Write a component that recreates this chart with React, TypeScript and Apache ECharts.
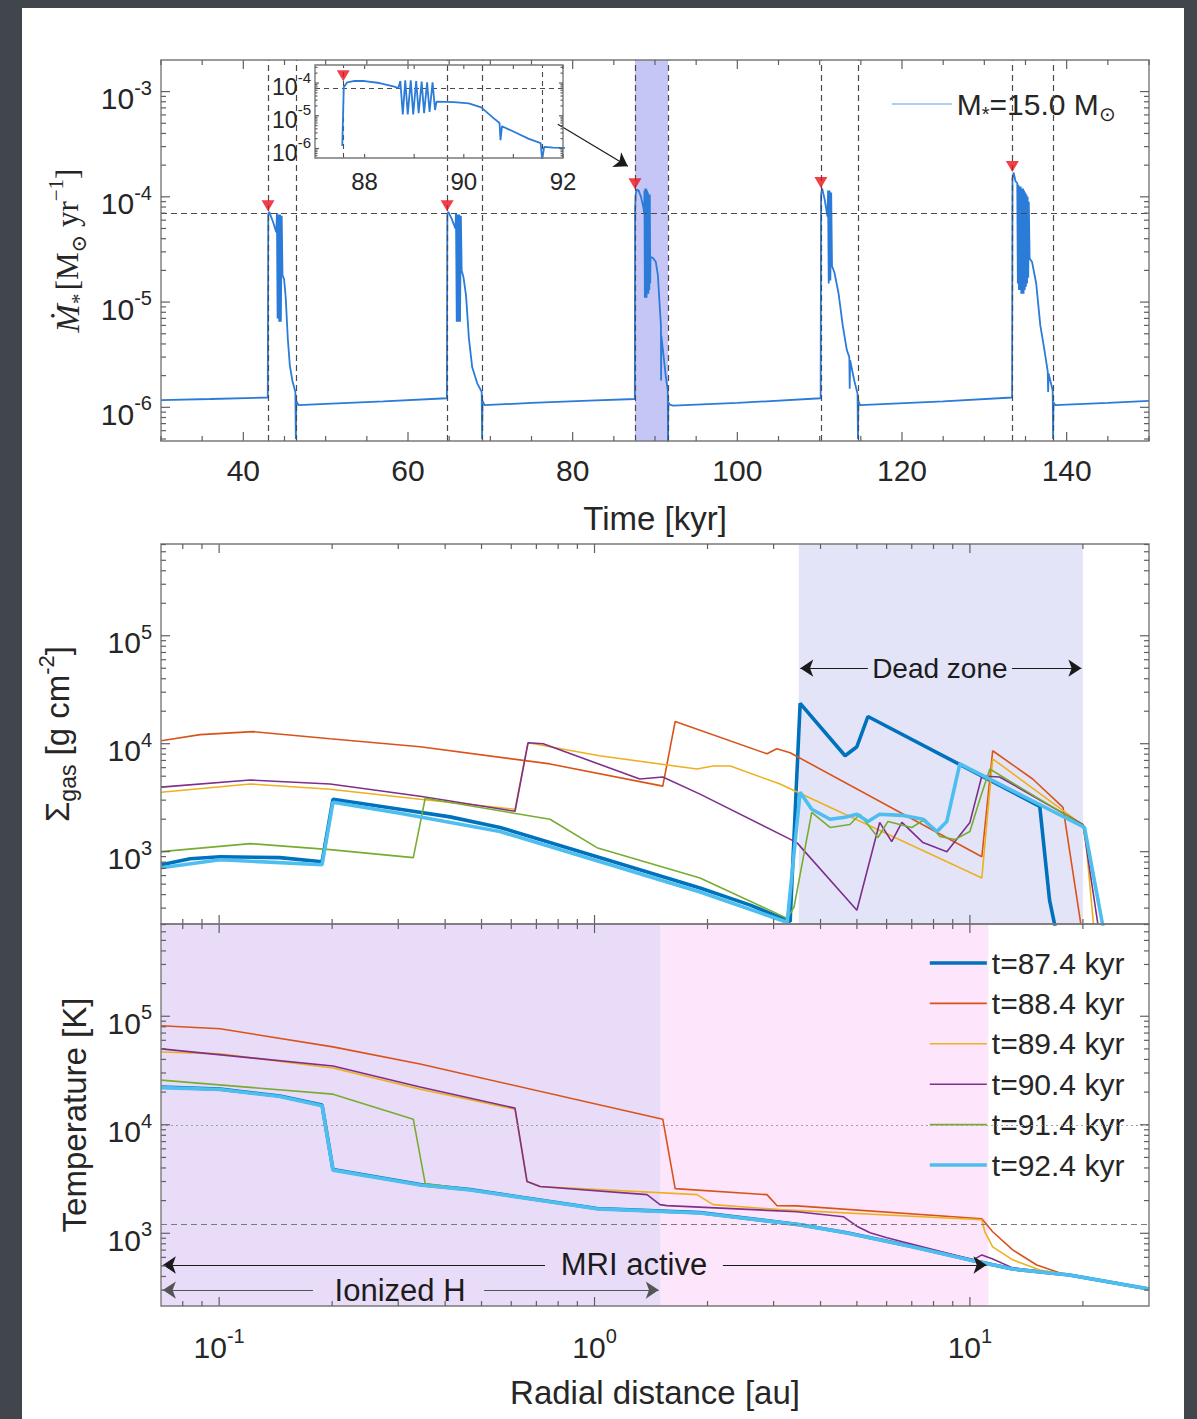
import React, { useEffect, useRef } from 'react';
import * as echarts from 'echarts';

const SANS = "'Liberation Sans', Arial, Helvetica, sans-serif";
const SERIF = "'Liberation Serif', 'DejaVu Serif', 'Times New Roman', serif";
const INK = '#262626';
const DARK = '#41454c';

// Accretion rate onto the 15 Msun star: [time kyr, Mdot Msun/yr]
const accretionHistory: [number, number][] = [
  [30, 1.17e-6], [36, 1.2e-6], [42.97, 1.24e-6],
  [43.0, 1.24e-6], [43.03, 6.9e-5], [43.15, 7.2e-5], [43.6, 5.8e-5], [44.0, 4.6e-5], [44.08, 7.0e-5],
  [44.16, 7e-6], [44.26, 6.8e-5], [44.36, 6.5e-6], [44.46, 6.8e-5], [44.56, 6.5e-6], [44.66, 6.6e-5],
  [44.76, 1.8e-5], [44.95, 1.65e-5], [45.15, 1.1e-5], [45.4, 4.5e-6], [45.65, 2.5e-6], [45.95, 1.8e-6],
  [46.32, 1.4e-6], [46.38, 5e-7], [46.43, 1.15e-6], [46.7, 1.05e-6],
  [50, 1.08e-6], [57, 1.14e-6], [64.72, 1.22e-6],
  [64.75, 1.22e-6], [64.78, 6.9e-5], [64.9, 7.2e-5], [65.3, 6.2e-5], [65.75, 5.0e-5], [65.83, 7.0e-5],
  [65.92, 6.5e-6], [66.02, 6.8e-5], [66.12, 6.5e-6], [66.22, 6.8e-5], [66.32, 6.5e-6], [66.42, 6.6e-5],
  [66.52, 2.0e-5], [66.75, 1.7e-5], [67.05, 1.15e-5], [67.4, 4.5e-6], [67.8, 2.4e-6], [68.4, 1.7e-6],
  [68.95, 1.4e-6], [69.0, 5e-7], [69.05, 1.15e-6], [69.3, 1.05e-6],
  [75, 1.1e-6], [82, 1.16e-6], [87.55, 1.2e-6],
  [87.58, 7.5e-5], [87.65, 1.05e-4], [87.8, 1.17e-4], [88.0, 1.15e-4], [88.3, 1.0e-4], [88.6, 7.8e-5],
  [88.68, 7.0e-5], [88.72, 1.15e-4], [88.77, 1.1e-5], [88.82, 1.2e-4], [88.87, 1.1e-5], [88.93, 1.2e-4],
  [88.98, 1.1e-5], [89.04, 1.15e-4], [89.09, 1.2e-5], [89.15, 1.1e-4], [89.2, 1.2e-5], [89.26, 1.05e-4],
  [89.31, 1.3e-5], [89.37, 1.05e-4], [89.42, 1.5e-5], [89.45, 2.7e-5],
  [89.8, 2.6e-5], [90.1, 2.4e-5], [90.35, 1.8e-5], [90.6, 8.5e-6], [90.72, 6e-6], [90.74, 1.8e-6],
  [90.77, 4.8e-6], [91.0, 3.3e-6], [91.3, 2.0e-6], [91.55, 1.45e-6], [91.58, 4.5e-7], [91.62, 1.12e-6],
  [91.8, 1.06e-6], [92.2, 1.04e-6],
  [100, 1.1e-6], [110.12, 1.22e-6],
  [110.15, 1.22e-6], [110.17, 1.05e-4], [110.3, 1.2e-4], [110.6, 9.5e-5], [110.95, 6.5e-5], [111.02, 1.15e-4],
  [111.1, 1.5e-5], [111.2, 1.15e-4], [111.3, 1.6e-5], [111.4, 1.1e-4], [111.5, 2.2e-5], [111.8, 1.9e-5],
  [112.3, 1.2e-5], [112.8, 6e-6], [113.3, 3.5e-6], [113.6, 3e-6], [113.65, 1.5e-6], [113.7, 2.8e-6],
  [114.2, 1.8e-6], [114.6, 1.35e-6], [114.65, 5e-7], [114.7, 1.15e-6], [114.9, 1.05e-6],
  [125, 1.14e-6], [133.37, 1.24e-6],
  [133.4, 1.24e-6], [133.42, 1.5e-4], [133.55, 1.7e-4], [133.8, 1.4e-4], [134.0, 1.35e-4],
  [134.07, 1.5e-5], [134.14, 1.3e-4], [134.21, 1.3e-5], [134.28, 1.25e-4], [134.35, 1.3e-5],
  [134.42, 1.25e-4], [134.49, 1.2e-5], [134.56, 1.2e-4], [134.63, 1.2e-5], [134.7, 1.2e-4],
  [134.77, 1.2e-5], [134.84, 1.15e-4], [134.91, 1.3e-5], [134.98, 1.1e-4], [135.05, 1.4e-5],
  [135.12, 1.05e-4], [135.19, 1.5e-5], [135.26, 1.0e-4], [135.33, 1.7e-5], [135.4, 9e-5],
  [135.5, 2.6e-5], [135.8, 2.4e-5], [136.3, 1.5e-5], [136.8, 6e-6], [137.3, 3.5e-6], [137.7, 2.2e-6],
  [137.75, 1.4e-6], [137.8, 2.1e-6], [138.3, 1.45e-6], [138.35, 5e-7], [138.4, 1.12e-6], [138.6, 1.05e-6],
  [145, 1.1e-6], [150, 1.15e-6],
];

// Outburst bookkeeping
const burstStart = [43.0, 64.75, 87.57, 110.15, 133.4];
const burstEnd = [46.38, 69.0, 91.58, 114.65, 138.35];
const burstPeak = [7.2e-5, 7.2e-5, 1.17e-4, 1.2e-4, 1.7e-4];
const burstThreshold = 6.9e-5;
const highlightedBurst = [87.57, 91.58];
const insetArrow = [[78.2, 4.9e-4], [86.7, 1.95e-4]];

// Tick labels
const timeTicks = [40, 60, 80, 100, 120, 140];
const insetTimeTicks = [88, 90, 92];
const rateDecades = [-6, -5, -4, -3];
const insetRateDecades = [-6, -5, -4];
const radiusDecades = [-1, 0, 1];
const profileDecades = [3, 4, 5];

// Disc snapshots
const snapshotLabels = ['t=87.4 kyr', 't=88.4 kyr', 't=89.4 kyr', 't=90.4 kyr', 't=91.4 kyr', 't=92.4 kyr'];
const snapshotColors = ['#0072BD', '#D95319', '#EDB120', '#7E2F8E', '#77AC30', '#4DBEEE'];
const snapshotWidths = [3.6, 1.6, 1.6, 1.6, 1.6, 3.6];

// Gas surface density [au, g cm^-2]
const sigma874: [number, number][] = [
  [0.0701, 757], [0.0837, 861], [0.1006, 898], [0.145, 880], [0.188, 807], [0.201, 3060], [0.303, 2470],
  [0.412, 2100], [0.56, 1676], [1.015, 898], [1.91, 461], [2.6, 320], [3.26, 231], [3.32, 225],
  [3.53, 23660], [4.65, 7730], [5.0, 9380], [5.35, 17870], [15.35, 2630], [16.3, 356], [17.1, 160],
];
const sigma884: [number, number][] = [
  [0.0701, 10670], [0.089, 12130], [0.123, 12950], [0.1975, 11130], [0.343, 9380], [0.761, 6500],
  [1.52, 4050], [1.64, 16070], [2.88, 8070], [3.06, 8980], [3.32, 8240], [10.76, 898], [11.5, 8610],
  [14.7, 4710], [17.7, 2575], [20.0, 160],
];
const sigma894: [number, number][] = [
  [0.0701, 3557], [0.121, 4230], [0.1975, 3790], [0.343, 3060], [0.614, 2470], [0.665, 10200],
  [1.03, 7730], [1.875, 5830], [2.07, 6220], [2.3, 6220], [3.12, 4230], [10.76, 571], [11.5, 7245],
  [20.2, 1714], [21.5, 160],
];
const sigma904: [number, number][] = [
  [0.0701, 3963], [0.121, 4610], [0.1975, 4230], [0.343, 3265], [0.614, 2365], [0.665, 10200],
  [0.73, 10000], [1.32, 4710], [1.52, 4920], [1.91, 3412], [3.46, 1213], [5.0, 287], [5.75, 1866],
  [6.19, 1240], [6.59, 1866], [7.5, 1213], [8.68, 1000], [10.0, 1866], [10.76, 5020], [12.0, 4920],
  [20.0, 1787], [22.2, 160],
];
const sigma914: [number, number][] = [
  [0.0701, 1000], [0.121, 1188], [0.1975, 1045], [0.329, 880], [0.354, 3125], [0.761, 1995],
  [1.015, 1089], [1.91, 571], [3.26, 241], [3.4, 306], [3.79, 2313], [4.24, 1676], [4.79, 1787],
  [5.09, 2220], [5.69, 1352], [6.05, 1906], [7.0, 1676], [7.59, 1995], [8.32, 1380], [9.12, 1294],
  [10.0, 1538], [10.63, 3060], [11.3, 5830], [20.0, 1750], [22.9, 160],
];
const sigma924: [number, number][] = [
  [0.0701, 709], [0.1006, 842], [0.188, 757], [0.201, 2870], [0.303, 2266], [0.56, 1537], [1.015, 825],
  [1.91, 423], [3.26, 222], [3.53, 3557], [3.79, 2470], [4.24, 1995], [4.65, 2080], [5.0, 2220],
  [5.35, 1906], [5.75, 2220], [6.59, 2170], [7.5, 1995], [8.17, 1538], [8.68, 1906], [9.4, 6500],
  [20.2, 1675], [22.9, 160],
];

// Midplane temperature [au, K]
const temp874: [number, number][] = [
  [0.0701, 22250], [0.1006, 21300], [0.145, 18400], [0.188, 15200], [0.201, 3870], [0.343, 2810],
  [0.466, 2530], [1.015, 1690], [1.91, 1550], [3.53, 1200], [4.7, 1011], [7.06, 750], [10.0, 569],
  [13.0, 469], [18.4, 413], [30, 306],
];
const temp884: [number, number][] = [
  [0.0701, 81700], [0.1006, 76600], [0.201, 52200], [0.343, 36300], [1.52, 11250], [1.64, 2582],
  [2.88, 2270], [3.06, 1800], [3.46, 1790], [10.76, 1362], [11.5, 1033], [13.0, 703], [15.07, 510],
  [17.7, 422], [30, 306],
];
const temp894: [number, number][] = [
  [0.0701, 46900], [0.1006, 45000], [0.201, 33300], [0.343, 21300], [0.614, 13900], [0.661, 3000],
  [0.716, 2700], [1.875, 2270], [2.07, 1837], [3.12, 1652], [10.76, 1334], [10.96, 1033], [11.5, 750],
  [13.0, 569], [15.35, 459], [17.7, 422], [30, 306],
];
const temp904: [number, number][] = [
  [0.0701, 50000], [0.201, 34800], [0.343, 22250], [0.614, 14230], [0.661, 3000], [0.716, 2700],
  [1.38, 2270], [1.494, 1837], [1.56, 1800], [3.46, 1580], [4.6, 1422], [5.03, 1148], [5.42, 1011],
  [6.01, 911], [10.2, 569], [10.76, 632], [11.5, 580], [13.0, 480], [18.4, 413], [30, 306],
];
const temp914: [number, number][] = [
  [0.0701, 25800], [0.201, 19150], [0.329, 11250], [0.354, 2870], [0.466, 2530], [1.015, 1690],
  [1.91, 1550], [3.53, 1200], [4.7, 1011], [7.06, 750], [10.0, 569], [13.0, 469], [18.4, 413], [30, 306],
];
const temp924: [number, number][] = [
  [0.0701, 22000], [0.1006, 21100], [0.145, 18200], [0.188, 15000], [0.201, 3820], [0.343, 2790],
  [0.466, 2510], [1.015, 1680], [1.91, 1540], [3.53, 1195], [4.7, 1008], [7.06, 748], [10.0, 568],
  [13.0, 468], [18.4, 412], [30, 306],
];

const sigmaProfiles = [sigma874, sigma884, sigma894, sigma904, sigma914, sigma924];
const tempProfiles = [temp874, temp884, temp894, temp904, temp914, temp924];

// Disc zones [au] and temperature markers [K]
const deadZone = [3.5, 20];
const ionizedHEdge = 1.5;
const mriActiveEdge = 11.2;
const hydrogenIonisationT = 1.0e4;
const mriActivationT = 1200;

// Axis extents
const timeRange = [30, 150];
const rateRange = [-6.32, -2.7];
const insetTimeRange = [87, 92];
const insetRateRange = [-6.29, -3.45];
const radiusRange = [Math.log10(0.07), Math.log10(30)];
const profileRange = [2.33, 5.85];

const lg = Math.log10;

function logMinors(lo: number, hi: number): number[] {
  const out: number[] = [];
  for (let n = Math.floor(lo) - 1; n <= Math.ceil(hi); n++) {
    for (let k = 2; k <= 9; k++) {
      const v = n + Math.log10(k);
      if (v > lo + 1e-6 && v < hi - 1e-6) out.push(v);
    }
  }
  return out;
}

const pow10 = (v: number) => `{b|10}{s|${v}}`;
const powRich = (size: number) => ({
  b: { fontSize: size, lineHeight: size + 12, fontFamily: SANS, color: INK },
  s: { fontSize: Math.round(size * 0.66), lineHeight: Math.round(size * 0.66), verticalAlign: 'top', fontFamily: SANS, color: INK },
});

// Box with ticks on all four sides, drawn through the grid's own scales
function frameSeries(axis: number, xr: number[], yr: number[], xMajor: number[], xMinor: number[],
  yMajor: number[], yMinor: number[], majorLen: number, minorLen: number, z: number) {
  const data: number[][] = [];
  xMajor.forEach((v) => data.push([v, 0, 1]));
  xMinor.forEach((v) => data.push([v, 0, 0]));
  yMajor.forEach((v) => data.push([v, 1, 1]));
  yMinor.forEach((v) => data.push([v, 1, 0]));
  return {
    type: 'custom', name: `frame${axis}`, xAxisIndex: axis, yAxisIndex: axis, z, silent: true, clip: false,
    data,
    renderItem: (params: any, api: any) => {
      const v = api.value(0);
      const kind = api.value(1);
      const len = api.value(2) ? majorLen : minorLen;
      const style = { stroke: '#606060', lineWidth: 1.2 };
      const children: any[] = [];
      if (kind === 0) {
        const b = api.coord([v, yr[0]]);
        const t = api.coord([v, yr[1]]);
        children.push({ type: 'line', shape: { x1: b[0], y1: b[1], x2: b[0], y2: b[1] - len }, style });
        children.push({ type: 'line', shape: { x1: t[0], y1: t[1], x2: t[0], y2: t[1] + len }, style });
      } else {
        const l = api.coord([xr[0], v]);
        const r = api.coord([xr[1], v]);
        children.push({ type: 'line', shape: { x1: l[0], y1: l[1], x2: l[0] + len, y2: l[1] }, style });
        children.push({ type: 'line', shape: { x1: r[0], y1: r[1], x2: r[0] - len, y2: r[1] }, style });
      }
      if (params.dataIndex === 0) {
        const a = api.coord([xr[0], yr[1]]);
        const c = api.coord([xr[1], yr[0]]);
        children.push({
          type: 'rect', shape: { x: a[0], y: a[1], width: c[0] - a[0], height: c[1] - a[1] },
          style: { fill: 'none', stroke: '#7a7a7a', lineWidth: 1.4 },
        });
      }
      return { type: 'group', children };
    },
  };
}

const blank = (axis: number, z: number, name: string) => ({
  type: 'line', name, xAxisIndex: axis, yAxisIndex: axis, data: [] as number[][], z, silent: true, symbol: 'none',
});

const textMark = (x: number, y: number, text: string, size: number) => ({
  coord: [x, y], symbol: 'circle', symbolSize: 1, itemStyle: { color: 'rgba(0,0,0,0)' },
  label: { show: true, position: 'inside', formatter: text, fontSize: size, color: '#1c1c1c', fontFamily: SANS },
});

function buildOption() {
  const rateData = accretionHistory.map(([t, m]) => [t, lg(m)]);
  const insetData = accretionHistory.filter(([t]) => t > 86 && t < 93).map(([t, m]) => [t, lg(m)]);

  const timeMinor: number[] = [];
  for (let v = timeRange[0]; v <= timeRange[1]; v += 5) if (!timeTicks.includes(v)) timeMinor.push(v);

  const labelBase = { color: INK, fontFamily: SANS };
  const nameBase = { fontSize: 33, lineHeight: 44, color: INK, fontFamily: SANS };
  const hidden = { axisLine: { show: false }, axisTick: { show: false }, splitLine: { show: false } };

  const series: any[] = [];

  // ---- accretion history ----
  series.push({
    ...blank(0, 1, 'band'),
    markArea: {
      silent: true, itemStyle: { color: '#c6c6f6' },
      data: [[{ xAxis: highlightedBurst[0] }, { xAxis: highlightedBurst[1] }]],
    },
  });
  series.push({
    type: 'line', name: 'accretion', xAxisIndex: 0, yAxisIndex: 0, data: rateData, symbol: 'none', z: 3,
    lineStyle: { color: '#2b7bd8', width: 1.8 }, itemStyle: { color: '#2b7bd8' },
  });
  series.push({
    ...blank(0, 4, 'burst limits'),
    markLine: {
      silent: true, symbol: 'none', label: { show: false },
      lineStyle: { type: [6, 4], color: '#4a4a4a', width: 1.2 },
      data: [
        ...burstStart.map((t) => ({ xAxis: t })),
        ...burstEnd.map((t) => ({ xAxis: t })),
        { yAxis: lg(burstThreshold) },
      ],
    },
  });
  series.push({
    type: 'scatter', name: 'peaks', xAxisIndex: 0, yAxisIndex: 0, z: 6, silent: true,
    data: burstStart.map((t, i) => [t, lg(burstPeak[i])]),
    symbol: 'triangle', symbolRotate: 180, symbolSize: [13, 11], symbolOffset: [0, -6],
    itemStyle: { color: '#e8101a' },
  });
  series.push({
    ...blank(0, 6, 'pointer'),
    markLine: {
      silent: true, symbol: ['none', 'arrow'], symbolSize: 13, label: { show: false },
      lineStyle: { type: 'solid', color: '#1a1a1a', width: 1.2 },
      data: [[{ coord: [insetArrow[0][0], lg(insetArrow[0][1])] }, { coord: [insetArrow[1][0], lg(insetArrow[1][1])] }]],
    },
  });
  series.push(frameSeries(0, timeRange, rateRange, timeTicks, timeMinor, rateDecades,
    logMinors(rateRange[0], rateRange[1]), 9, 5, 20));

  // ---- inset ----
  series.push({
    ...blank(1, 7, 'inset bg'),
    markArea: {
      silent: true, itemStyle: { color: '#ffffff', opacity: 1 },
      data: [[{ coord: [insetTimeRange[0], insetRateRange[0]] }, { coord: [insetTimeRange[1], insetRateRange[1]] }]],
    },
  });
  series.push({
    ...blank(1, 8, 'inset limits'),
    markLine: {
      silent: true, symbol: 'none', label: { show: false },
      lineStyle: { type: [5, 4], color: '#4a4a4a', width: 1.1 },
      data: [{ xAxis: highlightedBurst[0] }, { xAxis: highlightedBurst[1] }, { yAxis: lg(burstThreshold) }],
    },
  });
  series.push({
    type: 'line', name: 'accretion zoom', xAxisIndex: 1, yAxisIndex: 1, data: insetData, symbol: 'none', z: 9,
    lineStyle: { color: '#2b7bd8', width: 1.8 },
  });
  series.push({
    type: 'scatter', name: 'inset peak', xAxisIndex: 1, yAxisIndex: 1, z: 10, silent: true,
    data: [[burstStart[2], lg(burstPeak[2])]],
    symbol: 'triangle', symbolRotate: 180, symbolSize: [13, 11], symbolOffset: [0, -5],
    itemStyle: { color: '#e8101a' },
  });
  series.push(frameSeries(1, insetTimeRange, insetRateRange, [88, 89, 90, 91, 92], [], insetRateDecades,
    logMinors(insetRateRange[0], insetRateRange[1]), 4, 2.5, 21));

  // ---- surface density ----
  series.push({
    ...blank(2, 1, 'dead zone'),
    markArea: { silent: true, itemStyle: { color: '#e4e4f8' }, data: [[{ xAxis: lg(deadZone[0]) }, { xAxis: lg(deadZone[1]) }]] },
  });
  sigmaProfiles.forEach((prof, i) => {
    series.push({
      type: 'line', name: snapshotLabels[i], xAxisIndex: 2, yAxisIndex: 2, symbol: 'none', z: 3,
      data: prof.map(([r, s]) => [lg(r), lg(s)]),
      lineStyle: { color: snapshotColors[i], width: snapshotWidths[i] }, itemStyle: { color: snapshotColors[i] },
    });
  });
  const dzY = 4.7;
  series.push({
    ...blank(2, 5, 'dead zone label'),
    markLine: {
      silent: true, symbol: ['none', 'arrow'], symbolSize: 13, label: { show: false },
      lineStyle: { type: 'solid', color: '#1a1a1a', width: 1.2 },
      data: [
        [{ coord: [0.728, dzY] }, { coord: [lg(deadZone[0]) + 0.004, dzY] }],
        [{ coord: [1.112, dzY] }, { coord: [lg(deadZone[1]) - 0.004, dzY] }],
      ],
    },
    markPoint: { silent: true, data: [textMark(0.92, dzY, 'Dead zone', 28)] },
  });
  series.push(frameSeries(2, radiusRange, profileRange, radiusDecades, logMinors(radiusRange[0], radiusRange[1]),
    profileDecades, logMinors(profileRange[0], profileRange[1]), 9, 5, 20));

  // ---- temperature ----
  series.push({
    ...blank(3, 1, 'zones'),
    markArea: {
      silent: true,
      data: [
        [{ xAxis: radiusRange[0], itemStyle: { color: '#e9dcf9' } }, { xAxis: lg(ionizedHEdge) }],
        [{ xAxis: lg(ionizedHEdge), itemStyle: { color: '#fde5fb' } }, { xAxis: lg(mriActiveEdge) }],
      ],
    },
  });
  series.push({
    ...blank(3, 2, 'thresholds'),
    markLine: {
      silent: true, symbol: 'none', label: { show: false },
      data: [
        { yAxis: lg(hydrogenIonisationT), lineStyle: { type: [2, 3], color: '#a0a0a0', width: 1.2 } },
        { yAxis: lg(mriActivationT), lineStyle: { type: [6, 4], color: '#7a7a7a', width: 1.2 } },
      ],
    },
  });
  tempProfiles.forEach((prof, i) => {
    series.push({
      type: 'line', name: snapshotLabels[i], xAxisIndex: 3, yAxisIndex: 3, symbol: 'none', z: 3,
      data: prof.map(([r, t]) => [lg(r), lg(t)]),
      lineStyle: { color: snapshotColors[i], width: snapshotWidths[i] }, itemStyle: { color: snapshotColors[i] },
    });
  });
  const mriY = 2.708;
  const ionY = 2.477;
  series.push({
    ...blank(3, 5, 'mri label'),
    markLine: {
      silent: true, symbol: ['none', 'arrow'], symbolSize: 13, label: { show: false },
      lineStyle: { type: 'solid', color: '#1a1a1a', width: 1.2 },
      data: [
        [{ coord: [-0.132, mriY] }, { coord: [radiusRange[0] + 0.005, mriY] }],
        [{ coord: [0.342, mriY] }, { coord: [lg(mriActiveEdge) - 0.005, mriY] }],
      ],
    },
    markPoint: { silent: true, data: [textMark(0.105, mriY, 'MRI active', 31)] },
  });
  series.push({
    ...blank(3, 5, 'ionized label'),
    markLine: {
      silent: true, symbol: ['none', 'arrow'], symbolSize: 13, label: { show: false },
      lineStyle: { type: 'solid', color: '#555555', width: 1.2 },
      data: [
        [{ coord: [-0.75, ionY] }, { coord: [radiusRange[0] + 0.005, ionY] }],
        [{ coord: [-0.294, ionY] }, { coord: [lg(ionizedHEdge) - 0.005, ionY] }],
      ],
    },
    markPoint: { silent: true, data: [textMark(-0.518, ionY, 'Ionized H', 31)] },
  });
  series.push(frameSeries(3, radiusRange, profileRange, radiusDecades, logMinors(radiusRange[0], radiusRange[1]),
    profileDecades, logMinors(profileRange[0], profileRange[1]), 9, 5, 20));

  const rateTitle = '{i|Ṁ}{s|*} {r|[M}{s|⊙}{r| yr}{p|−1}{r|]}';
  const sigmaTitle = '{a|Σ}{g|gas}{a| [g cm}{p|-2}{a|]}';

  return {
    animation: false,
    backgroundColor: '#ffffff',
    grid: [
      { left: 161, top: 60, width: 988, height: 381 },
      { left: 315, top: 65, width: 248, height: 93 },
      { left: 161, top: 544, width: 988, height: 380 },
      { left: 161, top: 924, width: 988, height: 382 },
    ],
    xAxis: [
      {
        gridIndex: 0, type: 'value', min: timeRange[0], max: timeRange[1], ...hidden,
        axisLabel: { customValues: timeTicks, fontSize: 30, margin: 14, ...labelBase },
        name: 'Time [kyr]', nameLocation: 'middle', nameGap: 55, nameTextStyle: nameBase,
      },
      {
        gridIndex: 1, type: 'value', min: insetTimeRange[0], max: insetTimeRange[1], ...hidden, z: 10,
        axisLabel: { customValues: insetTimeTicks, fontSize: 24, margin: 11, ...labelBase },
      },
      {
        gridIndex: 2, type: 'value', min: radiusRange[0], max: radiusRange[1], ...hidden,
        axisLabel: { show: false },
      },
      {
        gridIndex: 3, type: 'value', min: radiusRange[0], max: radiusRange[1], ...hidden,
        axisLabel: { customValues: radiusDecades, formatter: pow10, rich: powRich(30), margin: 20, ...labelBase },
        name: 'Radial distance [au]', nameLocation: 'middle', nameGap: 64, nameTextStyle: nameBase,
      },
    ],
    yAxis: [
      {
        gridIndex: 0, type: 'value', min: rateRange[0], max: rateRange[1], ...hidden,
        axisLabel: { customValues: rateDecades, formatter: pow10, rich: powRich(30), margin: 9, padding: [14, 0, 0, 0], ...labelBase },
        name: rateTitle, nameLocation: 'middle', nameGap: 72,
        nameTextStyle: {
          color: INK,
          rich: {
            i: { fontFamily: SERIF, fontStyle: 'italic', fontSize: 34, lineHeight: 44, color: INK },
            r: { fontFamily: SERIF, fontSize: 31, lineHeight: 44, color: INK },
            s: { fontFamily: SERIF, fontSize: 21, lineHeight: 21, verticalAlign: 'bottom', color: INK },
            p: { fontFamily: SERIF, fontSize: 21, lineHeight: 26, verticalAlign: 'top', color: INK },
          },
        },
      },
      {
        gridIndex: 1, type: 'value', min: insetRateRange[0], max: insetRateRange[1], ...hidden, z: 10,
        axisLabel: { customValues: insetRateDecades, formatter: pow10, rich: powRich(23), margin: 4, padding: [8, 0, 0, 0], ...labelBase },
      },
      {
        gridIndex: 2, type: 'value', min: profileRange[0], max: profileRange[1], ...hidden,
        axisLabel: { customValues: profileDecades, formatter: pow10, rich: powRich(30), margin: 9, padding: [14, 0, 0, 0], ...labelBase },
        name: sigmaTitle, nameLocation: 'middle', nameGap: 82,
        nameTextStyle: {
          color: INK,
          rich: {
            a: { fontFamily: SANS, fontSize: 33, lineHeight: 44, color: INK },
            g: { fontFamily: SANS, fontSize: 23, lineHeight: 23, verticalAlign: 'bottom', color: INK },
            p: { fontFamily: SANS, fontSize: 22, lineHeight: 26, verticalAlign: 'top', color: INK },
          },
        },
      },
      {
        gridIndex: 3, type: 'value', min: profileRange[0], max: profileRange[1], ...hidden,
        axisLabel: { customValues: profileDecades, formatter: pow10, rich: powRich(30), margin: 9, padding: [14, 0, 0, 0], ...labelBase },
        name: 'Temperature [K]', nameLocation: 'middle', nameGap: 64, nameTextStyle: nameBase,
      },
    ],
    legend: [
      {
        left: 886, top: 84, itemWidth: 60, itemHeight: 10, selectedMode: false,
        data: ['accretion'],
        itemStyle: { opacity: 0 },
        lineStyle: { color: '#8fc0ec', width: 1.6 },
        formatter: () => '{m|M}{s|*}{m|=15.0 M}{s|⊙}',
        textStyle: {
          color: INK,
          rich: {
            m: { fontSize: 30, lineHeight: 40, fontFamily: SANS, color: INK },
            s: { fontSize: 20, lineHeight: 20, verticalAlign: 'bottom', fontFamily: SANS, color: INK },
          },
        },
      },
      {
        orient: 'vertical', left: 923, top: 943, itemWidth: 57, itemHeight: 14, itemGap: 10.4, selectedMode: false,
        data: snapshotLabels.map((name, i) => ({ name, lineStyle: { width: snapshotWidths[i] } })),
        itemStyle: { opacity: 0 },
        textStyle: { fontSize: 30, lineHeight: 30, color: INK, fontFamily: SANS },
      },
    ],
    graphic: [
      { type: 'rect', silent: true, z: 100, shape: { x: 0, y: 0, width: 22, height: 1419 }, style: { fill: DARK } },
      { type: 'rect', silent: true, z: 100, shape: { x: 1184, y: 0, width: 13, height: 1419 }, style: { fill: DARK } },
      { type: 'rect', silent: true, z: 100, shape: { x: 0, y: 0, width: 1197, height: 8 }, style: { fill: DARK } },
    ],
    series,
  };
}

export default function App() {
  const ref = useRef<HTMLDivElement>(null);
  useEffect(() => {
    if (!ref.current) return;
    const chart = echarts.init(ref.current, undefined, { renderer: 'svg' });
    chart.setOption(buildOption() as any);
    return () => chart.dispose();
  }, []);
  return <div ref={ref} style={{ position: 'fixed', left: 0, top: 0, width: 1197, height: 1419 }} />;
}
